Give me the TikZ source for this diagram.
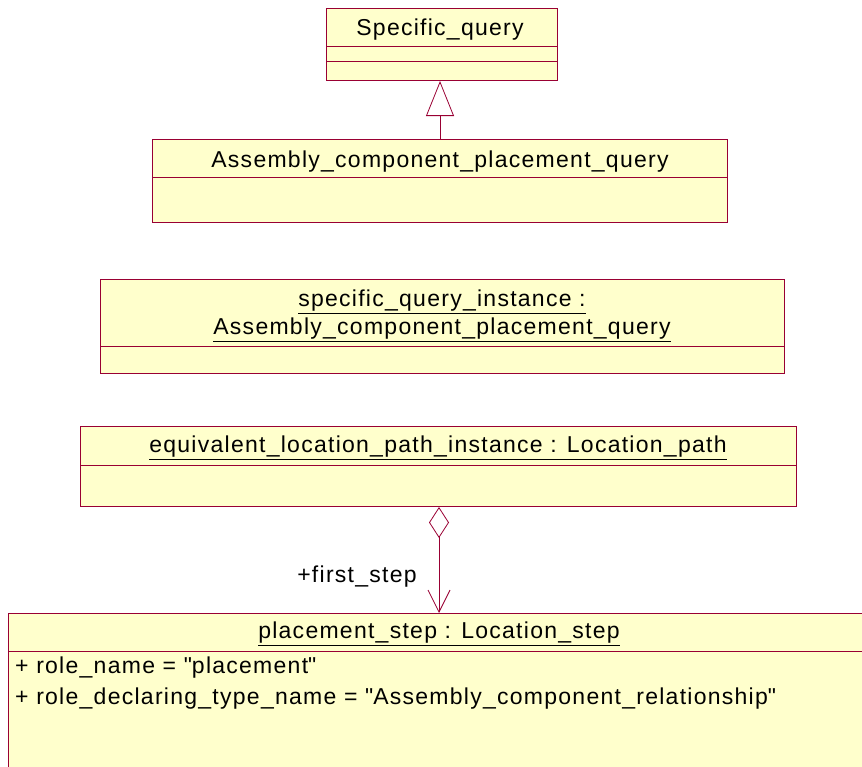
\documentclass[tikz,border=0pt]{standalone}
\usepackage{fontspec}
\setmainfont{Liberation Sans}[LetterSpace=5.5]
\usepackage{xcolor}
\usetikzlibrary{arrows.meta}
\definecolor{umlfill}{HTML}{FFFFCC}
\definecolor{umlline}{HTML}{990033}
\tikzset{
  cls/.style={draw=umlline, fill=umlfill, line width=1pt, anchor=north west, inner sep=0pt},
  lbl/.style={font=\fontsize{23}{27}\selectfont, inner sep=0pt},
  sep/.style={draw=umlline, line width=0.8pt}
}

\begin{document}
\begin{tikzpicture}[x=1pt, y=-1pt]
    \useasboundingbox (0,0) rectangle (862,766);
    % classes
    \node[cls, minimum width=231pt, minimum height=72pt] at(326,8)(sq){};
    \node[lbl] at(440,30)(sqname){Specific\_query};
    \draw[sep] (326,46) -- (557,46);
    \draw[sep] (326,61) -- (557,61);
    \node[cls, minimum width=575pt, minimum height=83pt] at(152,139)(acpq){};
    \node[lbl] at(440,162)(acpqname){Assembly\_component\_placement\_query};
    \draw[sep] (152,177) -- (727,177);
    \draw[umlline, line width=0.8pt, -{Triangle[open, width=28pt, length=35pt]}] (acpq.north) -- (acpq.north |- sq.south);
    % instances
    \node[cls, minimum width=684pt, minimum height=94pt] at(100,279)(sqi){};
    \node[lbl] at(442,302)(sqiname1){\underline{specific\_query\_instance :}};
    \node[lbl] at(442,330)(sqiname2){\underline{Assembly\_component\_placement\_query}};
    \draw[sep] (100,346) -- (784,346);
    \node[cls, minimum width=716pt, minimum height=80pt] at(80,426)(elp){};
    \node[lbl] at(438,448)(elpname){\underline{equivalent\_location\_path\_instance : Location\_path}};
    \draw[sep] (80,465) -- (796,465);
    \node[cls, minimum width=870pt, minimum height=170pt] at(8,613)(ps){};
    \node[lbl] at(439,634)(psname){\underline{placement\_step : Location\_step}};
    \draw[sep] (8,651) -- (870,651);
    \node[lbl, anchor=west] at(15,668)(attr1){+ role\_name = \textquotedbl placement\textquotedbl};
    \node[lbl, anchor=west] at(15,699)(attr2){+ role\_declaring\_type\_name = \textquotedbl Assembly\_component\_relationship\textquotedbl};
    % aggregation
    \draw[umlline, line width=0.8pt, {Diamond[open, width=20pt, length=31pt]}-{Straight Barb[length=22pt, width=22pt, line width=0.8pt]}] (elp.south -| 439,0) -- (ps.north -| 439,0);
    \node[lbl] at(357,577)(role){+first\_step};
\end{tikzpicture}
\end{document}
